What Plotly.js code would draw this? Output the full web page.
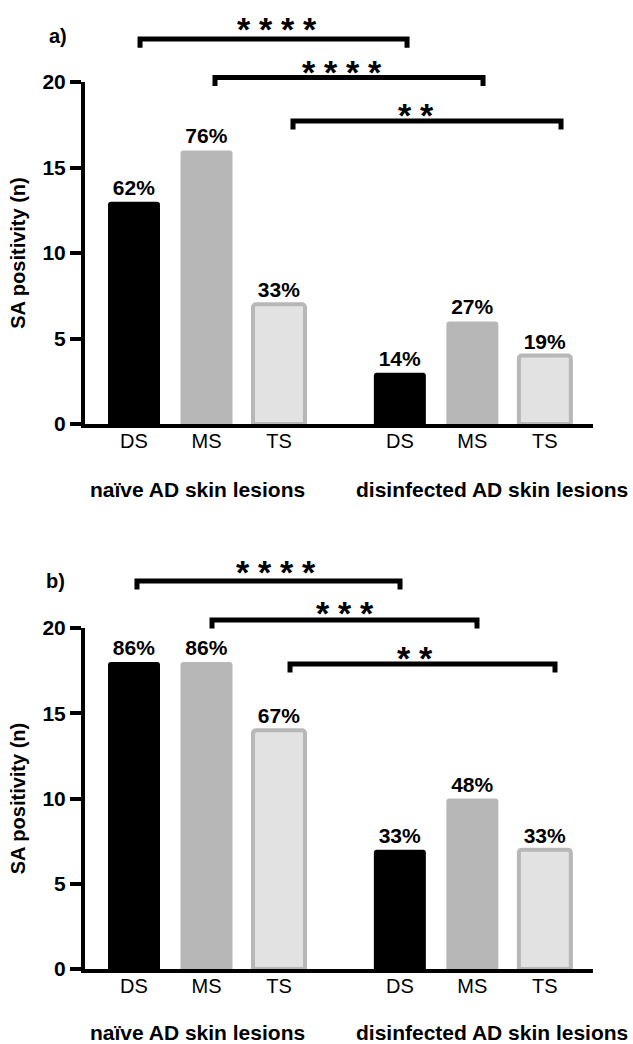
<!DOCTYPE html>
<html>
<head>
<meta charset="utf-8">
<script src="https://cdn.plot.ly/plotly-3.0.1.min.js"></script>
<style>html,body{margin:0;padding:0;background:#fff;}</style>
</head>
<body>
<div id="chart" style="width:633px;height:1044px;"></div>
<script>
// ---------- data ----------
const categories = ['DS', 'MS', 'TS', 'DS', 'MS', 'TS'];
const groupNames = ['naïve AD skin lesions', 'disinfected AD skin lesions'];
const countsA = [13, 16, 7, 3, 6, 4];
const percentA = ['62%', '76%', '33%', '14%', '27%', '19%'];
const countsB = [18, 18, 14, 7, 10, 7];
const percentB = ['86%', '86%', '67%', '33%', '48%', '33%'];
const starsA = ['****', '****', '**'];
const starsB = ['****', '***', '**'];
const yTicks = [0, 5, 10, 15, 20];
const panelLabels = ['a)', 'b)'];
const yTitle = 'SA positivity (n)';

// ---------- layout config ----------
const W = 633, H = 1044;
const FONT = '"Liberation Sans", Arial, Helvetica, sans-serif';
const xPos = [0, 1, 2, 3.667, 4.667, 5.667];
const xRange = [-0.676, 6.331];
const xDomain = [85 / W, 593 / W];
const yRange = [0, 20];
const domA = [1 - 424 / H, 1 - 82 / H];
const domB = [1 - 969 / H, 1 - 628 / H];
const fills = ['#000000', '#b6b7b6', '#e1e2e1', '#000000', '#b6b7b6', '#e1e2e1'];
const edgeColors = ['#000000', '#b6b7b6', '#b6b7b6', '#000000', '#b6b7b6', '#b6b7b6'];
const edgeWidths = [0, 0, 4, 0, 0, 4];

// bracket geometry (x in data units of the category axis, y in count units)
const bracketsA = [
  {x0: 0.083, x1: 3.766, y: 22.51, sx: 1.979, sy: 23.45},
  {x0: 1.117, x1: 4.814, y: 20.26, sx: 2.869, sy: 20.94},
  {x0: 2.193, x1: 5.890, y: 17.72, sx: 3.890, sy: 18.42}
];
const bracketsB = [
  {x0: 0.041, x1: 3.669, y: 22.76, sx: 1.959, sy: 23.64},
  {x0: 1.076, x1: 4.731, y: 20.47, sx: 2.910, sy: 21.23},
  {x0: 2.152, x1: 5.807, y: 17.89, sx: 3.876, sy: 18.59}
];
const tickDrop = 0.5;

function xp(x) { return xDomain[0] + (x - xRange[0]) / (xRange[1] - xRange[0]) * (xDomain[1] - xDomain[0]); }
function yp(y, dom) { return dom[0] + (y - yRange[0]) / (yRange[1] - yRange[0]) * (dom[1] - dom[0]); }

function barTrace(counts, pct, xa, ya) {
  return {
    type: 'bar', x: xPos, y: counts, xaxis: xa, yaxis: ya,
    width: 0.717,
    marker: {color: fills, line: {color: edgeColors, width: edgeWidths}, cornerradius: 3},
    text: pct, textposition: 'outside', constraintext: 'none', cliponaxis: false,
    textfont: {family: FONT, size: 21, color: '#000', weight: 'bold'},
    hoverinfo: 'none'
  };
}

const shapes = [];
const annotations = [];
function addBrackets(list, stars, dom) {
  list.forEach((b, i) => {
    const xa = xp(b.x0), xb = xp(b.x1), yl = yp(b.y, dom), yt = yp(b.y - tickDrop, dom);
    shapes.push({type: 'path', xref: 'paper', yref: 'paper',
      path: `M ${xa} ${yt} L ${xa} ${yl} L ${xb} ${yl} L ${xb} ${yt}`,
      line: {color: '#000', width: 5}});
    const n = stars[i].length;
    for (let k = 0; k < n; k++) {
      annotations.push({xref: 'paper', yref: 'paper', showarrow: false,
        x: xp(b.sx) + (k - (n - 1) / 2) * 22 / W, y: yp(b.sy, dom),
        xanchor: 'center', yanchor: 'middle', yshift: -6,
        text: '*', font: {family: FONT, size: 34, color: '#000', weight: 'bold'}});
    }
  });
}
addBrackets(bracketsA, starsA, domA);
addBrackets(bracketsB, starsB, domB);

// group labels and panel labels
[490, 1032].forEach((py) => {
  [0.88, 4.94].forEach((gx, g) => {
    annotations.push({xref: 'paper', yref: 'paper', showarrow: false,
      x: xp(gx), y: 1 - py / H, xanchor: 'center', yanchor: 'middle',
      text: groupNames[g], font: {family: FONT, size: 21, color: '#000', weight: 'bold'}});
  });
});
[[58, 36], [55, 581]].forEach(([px, py], i) => {
  annotations.push({xref: 'paper', yref: 'paper', showarrow: false,
    x: px / W, y: 1 - py / H, xanchor: 'center', yanchor: 'middle',
    text: panelLabels[i], font: {family: FONT, size: 20, color: '#000', weight: 'bold'}});
});

function xAxis(anchor) {
  return {domain: xDomain, range: xRange, anchor: anchor, tickvals: xPos, ticktext: categories,
    ticks: '', ticklabelstandoff: -4, showline: true, linewidth: 4, linecolor: '#000',
    showgrid: false, zeroline: false, fixedrange: true,
    tickfont: {family: FONT, size: 20, color: '#000'}};
}
function yAxis(dom, anchor) {
  return {domain: dom, range: yRange, anchor: anchor, tickvals: yTicks,
    ticks: 'outside', ticklen: 11, tickwidth: 4, tickcolor: '#000',
    showline: true, linewidth: 4, linecolor: '#000', showgrid: false, zeroline: false, fixedrange: true,
    tickfont: {family: FONT, size: 21, color: '#000', weight: 'bold'},
    title: {text: yTitle, standoff: 12, font: {family: FONT, size: 20, color: '#000', weight: 'bold'}}};
}

const layout = {
  width: W, height: H, margin: {l: 0, r: 0, t: 0, b: 0},
  paper_bgcolor: '#fff', plot_bgcolor: '#fff', showlegend: false,
  font: {family: FONT, color: '#000'},
  xaxis: xAxis('y'), yaxis: yAxis(domA, 'x'),
  xaxis2: xAxis('y2'), yaxis2: yAxis(domB, 'x2'),
  shapes: shapes, annotations: annotations
};

Plotly.newPlot('chart', [barTrace(countsA, percentA, 'x', 'y'), barTrace(countsB, percentB, 'x2', 'y2')], layout, {staticPlot: true});
</script>
</body>
</html>
